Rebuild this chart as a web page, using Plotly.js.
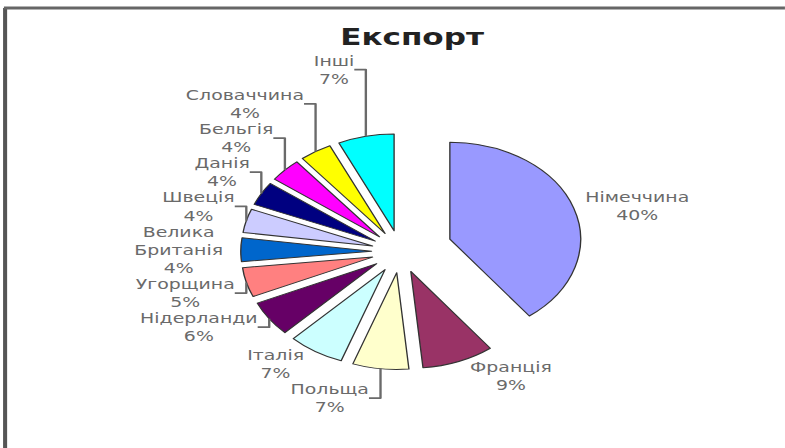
<!DOCTYPE html>
<html><head><meta charset="utf-8">
<script src="https://cdn.plot.ly/plotly-3.0.1.min.js"></script>
<style>
html,body{margin:0;padding:0;background:#fff;overflow:hidden}
#wrap{width:785px;height:448px;overflow:hidden}
#chart{width:581px;height:448px;transform:scaleX(1.351);transform-origin:0 0}
</style>
</head><body><div id="wrap"><div id="chart"></div></div>
<script>
var countries = ["Німеччина","Франція","Польща","Італія","Нідерланди","Угорщина","Велика<br>Британія","Швеція","Данія","Бельгія","Словаччина","Інші"];
var shares = [40, 9, 7, 7, 6, 5, 4, 4, 4, 4, 4, 7];
var sliceColors = ["#9999FF","#993366","#FFFFCC","#CCFFFF","#660066","#FF8080","#0066CC","#CCCCFF","#000080","#FF00FF","#FFFF00","#00FFFF"];
var pulls = [0.4,0.22,0.22,0.22,0.22,0.22,0.22,0.22,0.22,0.22,0.22,0.22];

var trace = {
  type: "pie",
  labels: countries,
  values: shares,
  sort: false,
  direction: "clockwise",
  rotation: 0,
  pull: pulls,
  marker: {colors: sliceColors, line: {color: "#333333", width: 1}},
  textposition: "outside",
  texttemplate: "%{label}<br>%{value}%",
  textfont: {family: "DejaVu Sans, Verdana, sans-serif", size: 14, color: "#6a6a6a"},
  hoverinfo: "none",
  domain: {x: [0.2, 0.82], y: [0.136, 0.741]},
  automargin: false,
  showlegend: false
};

var layout = {
  width: 581, height: 448,
  margin: {l: 0, r: 0, t: 0, b: 0},
  paper_bgcolor: "#ffffff",
  title: {text: "<b>Експорт</b>", x: 0.525, xanchor: "center", y: 0.918, yanchor: "middle",
          font: {family: "DejaVu Sans, Verdana, sans-serif", size: 23, color: "#222222"}},
  shapes: [
    {type: "line", xref: "paper", yref: "paper", x0: 0.0065, x1: 0.0065, y0: 0, y1: 0.982, line: {color: "#555555", width: 3}},
    {type: "line", xref: "paper", yref: "paper", x0: 0.005, x1: 1, y0: 0.982, y1: 0.982, line: {color: "#666666", width: 3}}
  ]
};

Plotly.newPlot("chart", [trace], layout, {staticPlot: true});
</script></body></html>
